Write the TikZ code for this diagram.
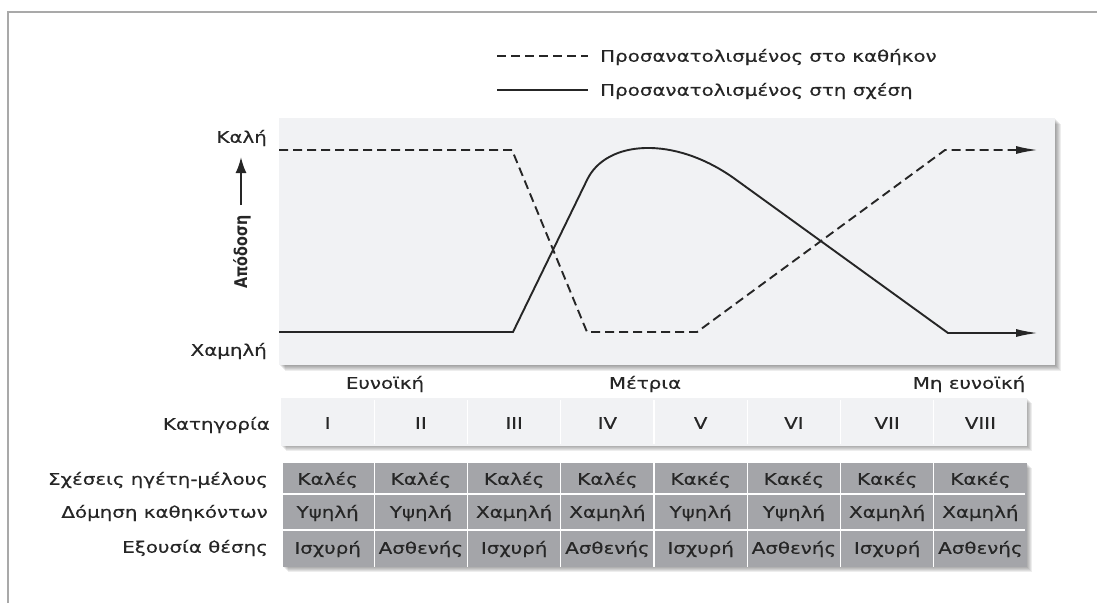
\documentclass[tikz,border=0pt]{standalone}
\usepackage{fontspec}
\newfontfamily\figfont[FakeStretch=1.24,FakeBold=0.35]{DejaVu Sans}
\newfontfamily\axfont[FakeStretch=0.82]{DejaVu Sans}
\usetikzlibrary{arrows.meta}
\definecolor{ink}{HTML}{262626}
\definecolor{pnl}{HTML}{F1F2F4}
\definecolor{cell}{HTML}{A4A5A9}
\definecolor{frm}{HTML}{A9A9A9}
\tikzset{
  taskln/.style={ink, line width=1.9pt, dash pattern=on 9pt off 5pt},
  relln/.style={ink, line width=1.9pt},
  endtip/.style={-{Latex[length=22pt,width=8pt]}},
  lab/.style={ink, inner sep=0pt, text height=11.5pt, text depth=0pt,
    font=\figfont\fontsize{16}{18}\selectfont},
  rlab/.style={lab, anchor=east},
  clab/.style={lab, anchor=center},
  cellsep/.style={white, line width=1.3pt},
  shd/.style={black, opacity=0.07},
}

\begin{document}
\begin{tikzpicture}[x=1pt,y=-1pt]
\useasboundingbox (0,0) rectangle (1097,603);

% ===================== frame and legend =====================
\draw[frm, line width=1.4pt] (8,603) -- (8,12) -- (1097,12);
\node[lab, anchor=west, inner xsep=12pt] (legTask) at (588,56) {Προσανατολισμένος στο καθήκον};
\node[lab, anchor=west, inner xsep=12pt] (legRel) at (588,90) {Προσανατολισμένος στη σχέση};
\coordinate (legTaskA) at (497,56);
\coordinate (legRelA) at (497,90);
\draw[taskln] (legTaskA) -- (legTask.west);
\draw[relln] (legRelA) -- (legRel.west);

% ===================== performance panel =====================
\foreach \s in {1,...,6}
  \fill[shd] (279+\s,118+\s) rectangle (1055+\s,365+\s);
\fill[pnl] (279,118) rectangle (1055,365);
% task oriented
\draw[taskln, endtip] (279,150) -- (512,150) -- (587,332) -- (697,332)
  -- (945,150) -- (1038,150);
% relationship oriented
\draw[relln, endtip] (279,332) -- (513,332) -- (587,180)
  .. controls (606,140) and (674,135) .. (735,179) -- (948,333) -- (1038,333);
% performance axis
\node[rlab] (good) at (267,137) {Καλή};
\node[rlab] (low) at (267,350) {Χαμηλή};
\coordinate (axFoot) at (241,205);
\coordinate (axHead) at (241,157);
\draw[ink, line width=2pt, -{Latex[length=16pt,width=11pt]}] (axFoot) -- (axHead);
\node[ink, inner sep=0pt, rotate=90, font=\axfont\bfseries\fontsize{17.5}{20}\selectfont]
  (perf) at (242,252) {Απόδοση};

% ===================== situational favourableness =====================
\node[clab] (fav) at (385,383) {Ευνοϊκή};
\node[clab] (mid) at (645,383) {Μέτρια};
\node[clab] (unfav) at (969,383) {Μη ευνοϊκή};

% category row
\foreach \s in {1,...,5}
  \fill[shd] (281+\s,398+\s) rectangle (1027+\s,446+\s);
\fill[pnl] (281,398) rectangle (1027,446);
\node[rlab] (catlab) at (270,424) {Κατηγορία};
\foreach \n [count=\i] in {I,II,III,IV,V,VI,VII,VIII}
  \node[clab] (cat\i) at ({281+93.25*(\i-0.5)},423) {\n};
\foreach \k in {1,...,7}
  \draw[cellsep] ({281+93.25*\k},400) -- ({281+93.25*\k},444);

% ===================== situation table =====================
\foreach \s in {1,...,5}
  \fill[shd] (283+\s,463+\s) rectangle (1027+\s,567+\s);
\fill[cell] (283,463) rectangle (1027,567);
\foreach \k in {1,...,7}
  \draw[cellsep] ({281+93.25*\k},463) -- ({281+93.25*\k},567);
\foreach \y in {494,530}
  \draw[cellsep] (283,\y) -- (1025,\y);
\node[rlab] (rowLM) at (268,479) {Σχέσεις ηγέτη-μέλους};
\node[rlab] (rowTS) at (268,512) {Δόμηση καθηκόντων};
\node[rlab] (rowPP) at (268,547) {Εξουσία θέσης};
\foreach \a/\b/\c [count=\i] in {Καλές/Υψηλή/Ισχυρή, Καλές/Υψηλή/Ασθενής,
    Καλές/Χαμηλή/Ισχυρή, Καλές/Χαμηλή/Ασθενής, Κακές/Υψηλή/Ισχυρή,
    Κακές/Υψηλή/Ασθενής, Κακές/Χαμηλή/Ισχυρή, Κακές/Χαμηλή/Ασθενής}{
  \node[clab] (lm\i) at ({281+93.25*(\i-0.5)},479) {\a};
  \node[clab] (ts\i) at ({281+93.25*(\i-0.5)},512) {\b};
  \node[clab] (pp\i) at ({281+93.25*(\i-0.5)},548) {\c};
}

\end{tikzpicture}
\end{document}
